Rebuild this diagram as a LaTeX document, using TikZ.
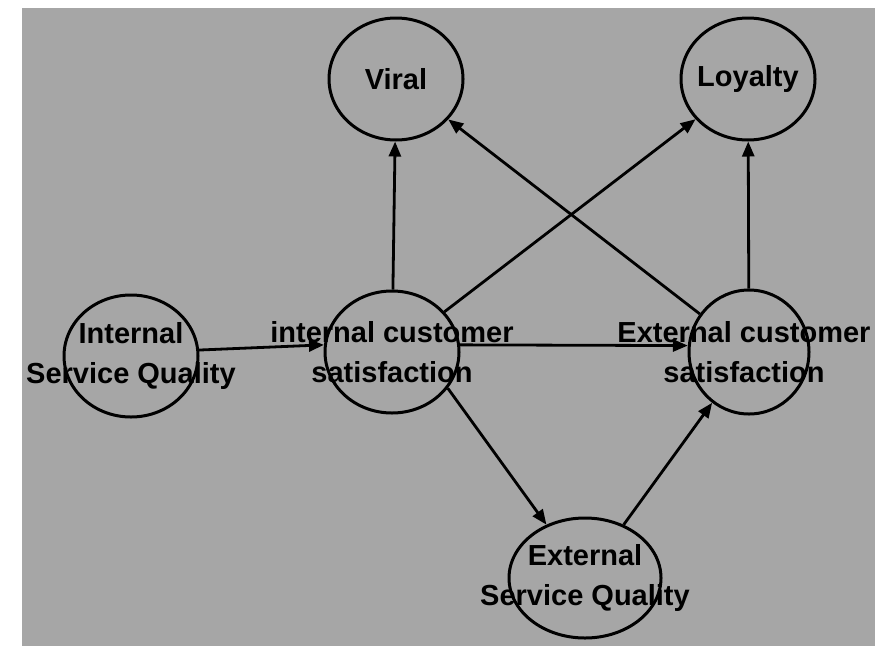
\documentclass[tikz,border=0pt]{standalone}
\usepackage{fontspec}
\setmainfont{Liberation Sans}
\usetikzlibrary{arrows.meta,shapes.geometric}

\definecolor{paper}{RGB}{166,166,166}

\tikzset{
    bubble/.style={draw, line width=3pt, ellipse, inner sep=0pt,
        minimum width=134pt, minimum height=122pt},
    caption/.style={font=\fontsize{29}{40}\selectfont\bfseries, align=center, inner sep=0pt},
    link/.style={line width=2.8pt, -{Triangle[length=15pt,width=12pt]}},
}

\begin{document}
\begin{tikzpicture}[x=1pt,y=-1pt]
                \useasboundingbox (0,0) rectangle (875,646);
                \fill[paper] (22,8) rectangle (875,646);

                % circles
                \node[bubble] (viral) at (396,79) {};
                \node[bubble] (loyal) at (748,79) {};
                \node[bubble] (isq) at (131,356) {};
                \node[bubble] (ics) at (392,352) {};
                \node[bubble, minimum width=120pt, minimum height=124pt] (ecs) at (749,352) {};
                \node[bubble, minimum width=152pt, minimum height=120pt] (esq) at (585,578) {};

                \draw[link] (isq.5) -- (ics.174);
                \draw[link] (ics.6) -- (ecs.174);
                \draw[link] (ics) -- (viral);
                \draw[link] (ics) -- (loyal);
                \draw[link] (ecs) -- (viral);
                \draw[link] (ecs) -- (loyal);
                \draw[link] (ics.-33) -- (esq);
                \draw[link] (esq) -- (ecs);

                \node[caption] (viraltxt) at (viral) {Viral};
                \node[caption] (loyaltxt) at (loyal) {Loyalty};
                \node[caption] (isqtxt) at (isq) {Internal\\Service Quality};
                \node[caption] (icstxt) at (ics) {internal customer\\satisfaction};
                \node[caption] (ecstxt) at (744,352) {External customer\\satisfaction};
                \node[caption] (esqtxt) at (esq) {External\\Service Quality};
\end{tikzpicture}
\end{document}
